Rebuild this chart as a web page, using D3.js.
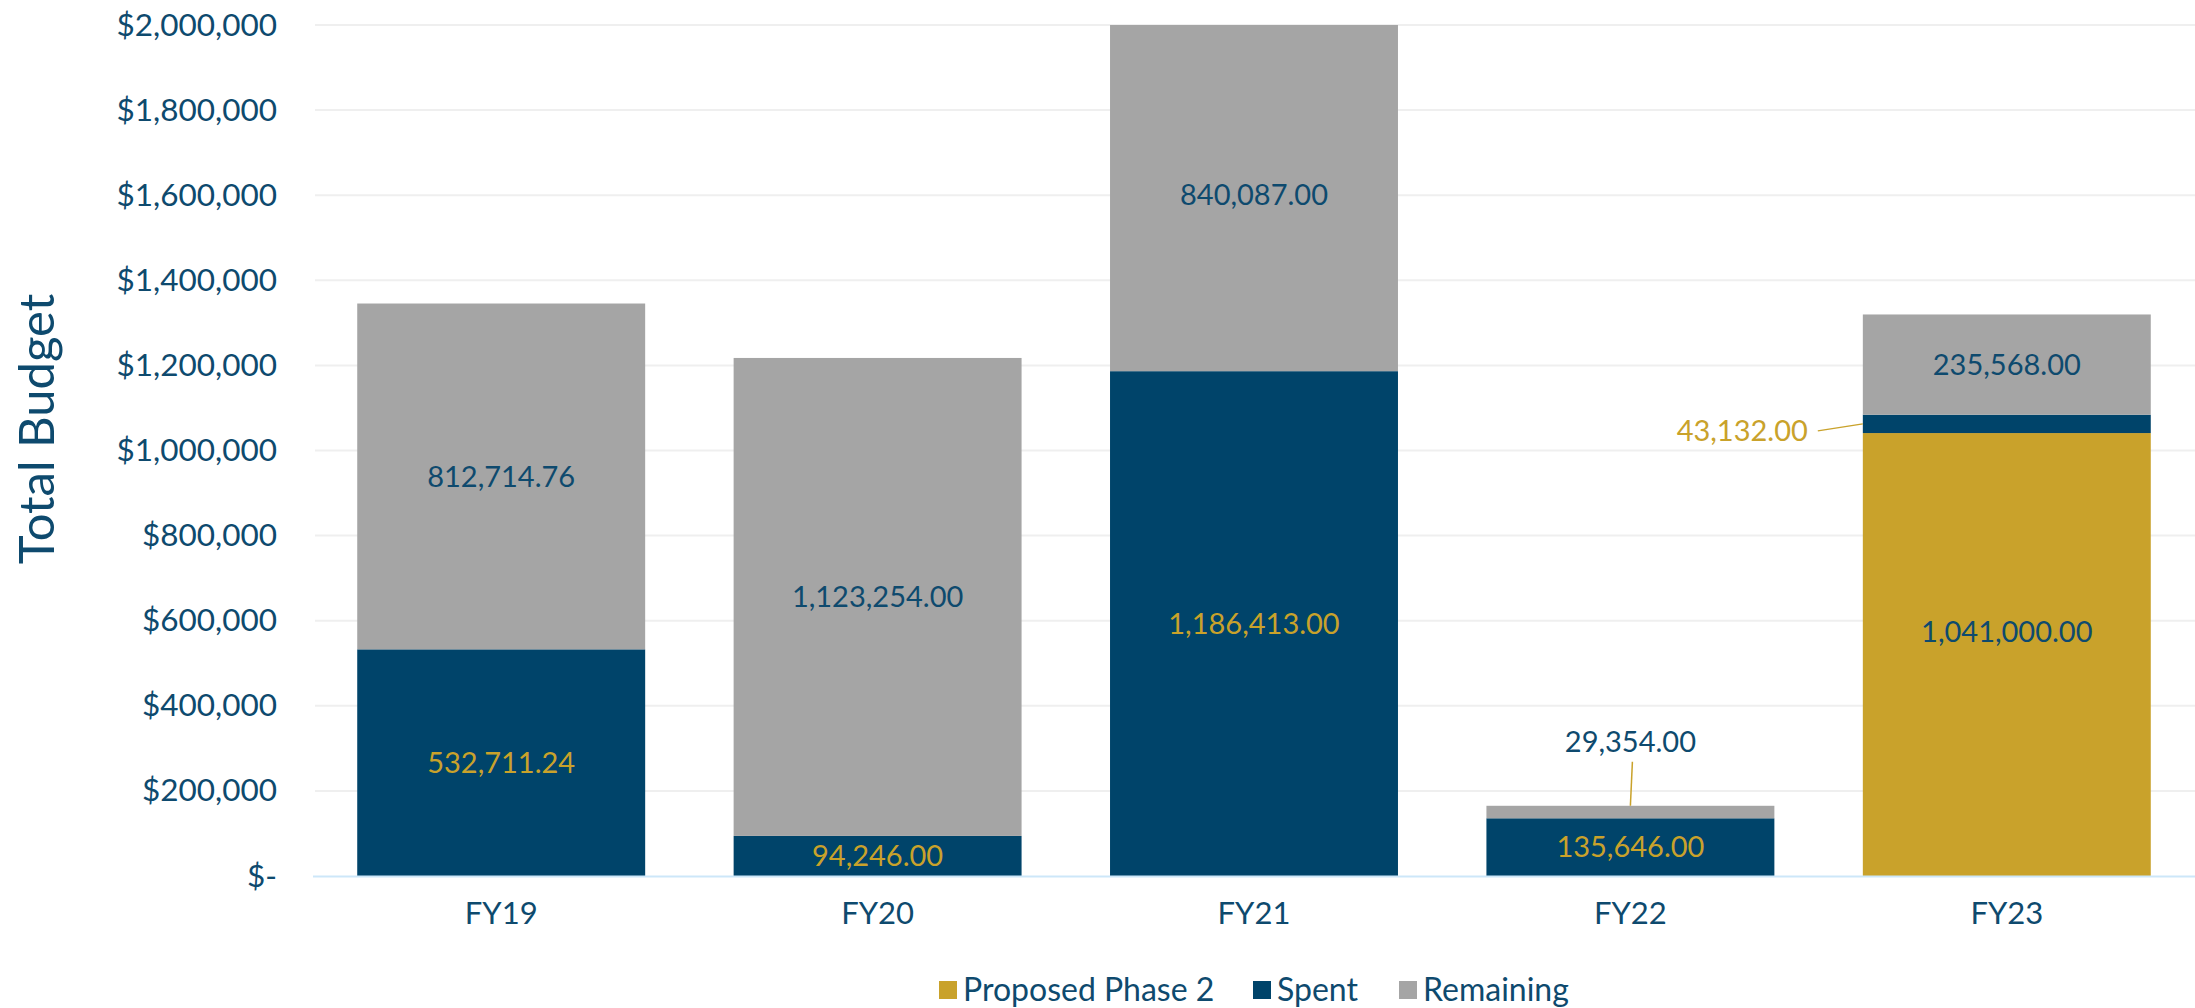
<!DOCTYPE html>
<html>
<head>
<meta charset="utf-8">
<script src="https://cdn.jsdelivr.net/npm/d3@7"></script>
<style>
  body { margin: 0; background: #ffffff; }
  text { font-family: Lato, "Open Sans", sans-serif; }
</style>
</head>
<body>
<div id="chart"></div>
<script>
// chart data
var years = ["FY19", "FY20", "FY21", "FY22", "FY23"];
var proposed = [0, 0, 0, 0, 1041000];
var spent = [532711.24, 94246, 1186413, 135646, 43132];
var remaining = [812714.76, 1123254, 840087, 29354, 235568];
var seriesNames = ["Proposed Phase 2", "Spent", "Remaining"];
var yTicks = [0, 200000, 400000, 600000, 800000, 1000000, 1200000, 1400000, 1600000, 1800000, 2000000];

var svgWidth = 2195;
var svgHeight = 1008;

var navy = "#00446a";
var gold = "#c9a22b";
var grey = "#a5a5a5";
var textColor = "#0e4a6e";

var svg = d3.select("#chart")
  .append("svg")
  .attr("width", svgWidth)
  .attr("height", svgHeight);

var x = d3.scaleBand()
  .domain(years)
  .range([313, 2195])
  .paddingInner(0.235)
  .paddingOuter(0.1175);

var y = d3.scaleLinear()
  .domain([0, 2000000])
  .range([876, 25]);

// gridlines
svg.append("g")
  .selectAll("line")
  .data(yTicks.slice(1))
  .enter()
  .append("line")
  .attr("x1", 315)
  .attr("x2", svgWidth)
  .attr("y1", d => y(d))
  .attr("y2", d => y(d))
  .attr("stroke", "#efefef")
  .attr("stroke-width", 2);

// y axis labels
var fmt = d3.format(",");
var yAxis = d3.axisLeft(y)
  .tickValues(yTicks)
  .tickSize(0)
  .tickPadding(0)
  .tickFormat(d => d === 0 ? "$-" : "$" + fmt(d));

var yAxisG = svg.append("g")
  .attr("transform", "translate(277,0)")
  .call(yAxis);
yAxisG.select(".domain").remove();
yAxisG.selectAll("text")
  .attr("font-family", "Lato")
  .attr("font-size", 31.5)
  .attr("fill", textColor);

// stacked data
var rows = years.map(function(yr, i) {
  return { year: yr, proposed: proposed[i], spent: spent[i], remaining: remaining[i] };
});
var stack = d3.stack().keys(["proposed", "spent", "remaining"]);
var layers = stack(rows);
var colors = { proposed: gold, spent: navy, remaining: grey };

svg.append("defs").append("clipPath")
  .attr("id", "plotClip")
  .append("rect")
  .attr("x", 300)
  .attr("y", y(2000000))
  .attr("width", svgWidth - 300)
  .attr("height", y(0) - y(2000000));

var barsG = svg.append("g").attr("clip-path", "url(#plotClip)");
layers.forEach(function(layer) {
  barsG.selectAll("rect." + layer.key)
    .data(layer)
    .enter()
    .append("rect")
    .attr("class", layer.key)
    .attr("x", d => x(d.data.year))
    .attr("width", x.bandwidth())
    .attr("y", d => y(d[1]))
    .attr("height", d => y(d[0]) - y(d[1]))
    .attr("fill", colors[layer.key]);
});

// zero axis line
svg.append("line")
  .attr("x1", 313)
  .attr("x2", svgWidth)
  .attr("y1", y(0) + 0.5)
  .attr("y2", y(0) + 0.5)
  .attr("stroke", "#cde7f9")
  .attr("stroke-width", 2);

// x axis labels
var xAxis = d3.axisBottom(x).tickSize(0).tickPadding(0);
var xAxisG = svg.append("g")
  .attr("transform", "translate(0,902)")
  .call(xAxis);
xAxisG.select(".domain").remove();
xAxisG.selectAll("text")
  .attr("font-family", "Lato")
  .attr("font-size", 31)
  .attr("fill", textColor);

// data labels
var numFmt = d3.format(",.2f");
var labelColors = { proposed: textColor, spent: gold, remaining: textColor };
layers.forEach(function(layer) {
  layer.forEach(function(d) {
    var v = d[1] - d[0];
    if (v <= 0) return;
    var top = Math.min(d[1], 2000000);
    var cx = x(d.data.year) + x.bandwidth() / 2;
    var cy = (y(d[0]) + y(top)) / 2;
    var tx = cx, ty = cy, anchor = "middle";
    if (d.data.year === "FY22" && layer.key === "remaining") {
      // label above the bar with a leader line
      ty = y(top) - 64;
      svg.append("line")
        .attr("x1", cx + 2).attr("y1", y(top) - 44)
        .attr("x2", cx).attr("y2", y(top))
        .attr("stroke", gold).attr("stroke-width", 1.5);
    } else if (d.data.year === "FY23" && layer.key === "spent") {
      // label to the left with a leader line
      var left = x(d.data.year);
      tx = left - 55;
      ty = cy + 7;
      anchor = "end";
      svg.append("line")
        .attr("x1", left - 45).attr("y1", cy + 7)
        .attr("x2", left).attr("y2", cy)
        .attr("stroke", gold).attr("stroke-width", 1.5);
    } else if (d.data.year === "FY23" && layer.key === "proposed") {
      ty = cy - 23;
    } else if (d.data.year === "FY21" && layer.key === "remaining") {
      ty = cy - 3;
    }
    var col = labelColors[layer.key];
    svg.append("text")
      .attr("x", tx)
      .attr("y", ty)
      .attr("dy", "0.35em")
      .attr("text-anchor", anchor)
      .attr("font-size", 29)
      .attr("fill", col)
      .text(numFmt(v));
  });
});

// y axis title
svg.append("text")
  .attr("transform", "translate(37,429) rotate(-90)")
  .attr("text-anchor", "middle")
  .attr("dy", "0.35em")
  .attr("font-size", 49)
  .attr("fill", textColor)
  .text("Total Budget");

// legend
var legendX = [939, 1253, 1399];
var legendColors = [gold, navy, grey];
var legend = svg.append("g");
seriesNames.forEach(function(name, i) {
  legend.append("rect")
    .attr("x", legendX[i])
    .attr("y", 981)
    .attr("width", 18)
    .attr("height", 18)
    .attr("fill", legendColors[i]);
  legend.append("text")
    .attr("x", legendX[i] + 24)
    .attr("y", 990)
    .attr("dy", "0.35em")
    .attr("font-size", 32)
    .attr("fill", textColor)
    .text(name);
});
</script>
</body>
</html>
